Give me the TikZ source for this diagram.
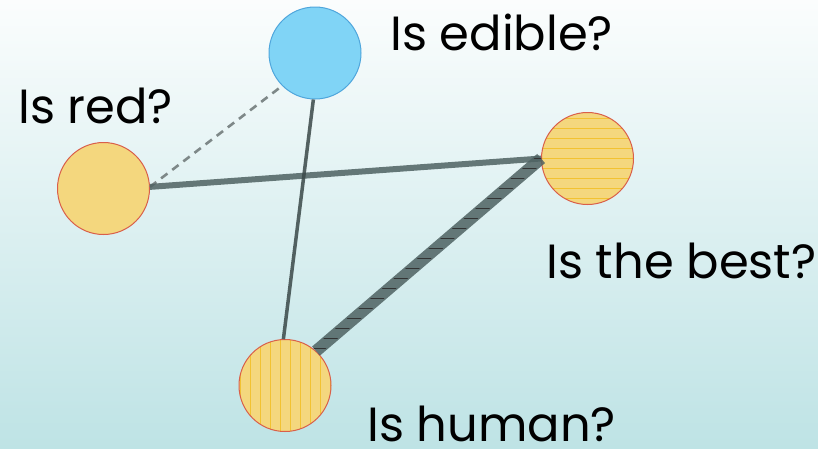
\documentclass[tikz,border=0pt]{standalone}
\usepackage{fontspec}
\setmainfont{Poppins}
\usetikzlibrary{patterns.meta,calc}
\definecolor{bgtop}{HTML}{FBFDFD}
\definecolor{bgbot}{HTML}{BEE3E5}
\definecolor{bluefill}{HTML}{80D4F6}
\definecolor{blueline}{HTML}{4FA6DC}
\definecolor{yelfill}{HTML}{F4D77E}
\definecolor{yelline}{HTML}{D95F4A}
\definecolor{yelhatch}{HTML}{F2C232}
\definecolor{edge}{HTML}{4E6262}
\definecolor{edgedark}{HTML}{3A4848}
\definecolor{dashcol}{HTML}{7E8888}
\tikzset{
  ball/.style={circle, minimum size=92pt, inner sep=0pt, line width=1pt},
  blueball/.style={ball, fill=bluefill, draw=blueline},
  yelball/.style={ball, fill=yelfill, draw=yelline},
  hball/.style={ball, draw=yelline, preaction={fill=yelfill},
     pattern={Lines[angle=0,distance=10pt,line width=0.8pt]}, pattern color=yelhatch},
  vball/.style={ball, draw=yelline, preaction={fill=yelfill},
     pattern={Lines[angle=90,distance=10pt,line width=0.8pt]}, pattern color=yelhatch},
  lbl/.style={anchor=base west, inner sep=0pt, font=\fontsize{48}{50}\selectfont},
}
\begin{document}
\begin{tikzpicture}[x=1pt,y=-1pt]
\shade[top color=bgtop, bottom color=bgbot] (0,0) rectangle (818,448);
\useasboundingbox (0,0) rectangle (818,448);

\node[blueball] (edible) at (315,53) {};
\node[yelball] (red) at (103.5,188.5) {};
\node[hball] (best) at (587.5,158.5) {};
\node[vball] (human) at (285,385.5) {};

\node[lbl] (tedible) at (390,50) {Is edible?};
\node[lbl] (tred) at (18,123) {Is red?};
\node[lbl] (tbest) at (546,278) {Is the best?};
\node[lbl] (thuman) at (367,441) {Is human?};

\draw[dashcol, line width=2.6pt, dash pattern=on 8pt off 6pt] (red.2) -- (edible.225);
\draw[edge, opacity=0.85, line width=6pt] (red.2) -- (best.180);
\draw[edgedark, opacity=0.85, line width=3.5pt] (edible.268) -- (human.92);
\coordinate (A) at (best.180);
\coordinate (B) at (human.48);
\fill[edge, opacity=0.85] ($(A)!6pt!90:(B)$) -- ($(A)!6pt!-90:(B)$) -- ($(B)!6pt!90:(A)$) -- ($(B)!6pt!-90:(A)$) -- cycle;
\path[pattern={Lines[angle=0,distance=10pt,line width=1pt]}, pattern color=black!80]
  ($(A)!4.5pt!90:(B)$) -- ($(A)!4.5pt!-90:(B)$) -- ($(B)!4.5pt!90:(A)$) -- ($(B)!4.5pt!-90:(A)$) -- cycle;
\end{tikzpicture}
\end{document}
